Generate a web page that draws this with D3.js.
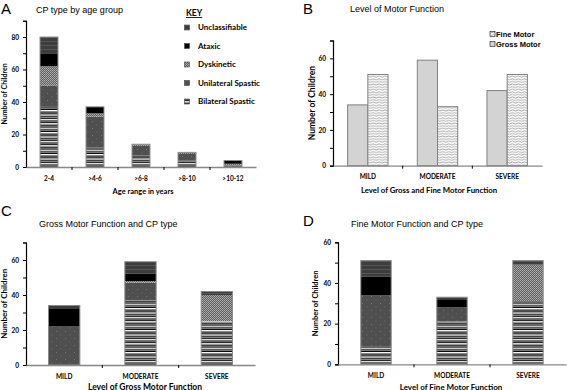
<!DOCTYPE html>
<html>
<head>
<meta charset="utf-8">
<script src="https://cdn.jsdelivr.net/npm/d3@7"></script>
<style>
  body { margin: 0; background: #fff; }
  svg { display: block; }
  text { font-family: Lato, "DejaVu Sans", sans-serif; font-weight: bold; fill: #000; }
  .ttl { font-family: "Liberation Sans", Arial, sans-serif; font-weight: normal; }
</style>
</head>
<body>
<svg width="567" height="390"></svg>
<script>
// ---- data ----
const cpTypes = ["Bilateral Spastic", "Unilateral Spastic", "Dyskinetic", "Ataxic", "Unclassifiable"];
const cpKeys = ["bil", "uni", "dys", "ata", "unc"];

// A: CP type by age group
const ageGroups = ["2-4", ">4-6", ">6-8", ">8-10", ">10-12"];
const ageBilateral = [37, 12, 7, 4, 0];
const ageUnilateral = [13, 19, 6, 4, 1];
const ageDyskinetic = [12, 2, 1, 1, 1];
const ageAtaxic = [8, 4, 0, 0, 2];
const ageUnclass = [10, 0, 0, 0, 0];

// B: level of motor function
const levels = ["MILD", "MODERATE", "SEVERE"];
const grossMotor = [34, 59, 42];
const fineMotor = [51, 33, 51];

// C: gross motor function and CP type
const grossBilateral = [0, 37, 25];
const grossUnilateral = [22, 10, 0];
const grossDyskinetic = [0, 1, 15];
const grossAtaxic = [10, 4, 0];
const grossUnclass = [2, 7, 2];

// D: fine motor function and CP type
const fineBilateral = [9, 21, 31];
const fineUnilateral = [25, 7, 0];
const fineDyskinetic = [0, 0, 18];
const fineAtaxic = [9, 4, 0];
const fineUnclass = [8, 1, 2];

const svg = d3.select('svg');
const defs = svg.append('defs');

// ---- fill patterns (grayscale like the original) ----
function pat(id, w, h, draw) {
  const p = defs.append('pattern').attr('id', id)
    .attr('patternUnits', 'userSpaceOnUse').attr('width', w).attr('height', h);
  draw(p);
}
pat('p-bil', 6, 4.4, p => {
  p.append('rect').attr('width', 6).attr('height', 4.4).attr('fill', '#000');
  p.append('rect').attr('y', 0).attr('width', 6).attr('height', 1.4).attr('fill', '#fff');
  p.append('rect').attr('y', 2.3).attr('width', 6).attr('height', 1.2).attr('fill', '#8c8c8c');
});
pat('p-uni', 9, 7, p => {
  p.append('rect').attr('width', 9).attr('height', 7).attr('fill', '#4f4f4f');
  p.append('rect').attr('x', 2).attr('y', 2).attr('width', 0.8).attr('height', 0.8).attr('fill', '#8a8a8a');
  p.append('rect').attr('x', 6.5).attr('y', 5.5).attr('width', 0.8).attr('height', 0.8).attr('fill', '#7a7a7a');
});
pat('p-dys', 2, 2, p => {
  p.append('rect').attr('width', 2).attr('height', 2).attr('fill', '#5e5e5e');
  p.append('rect').attr('width', 1).attr('height', 1).attr('fill', '#b4b4b4');
  p.append('rect').attr('x', 1).attr('y', 1).attr('width', 1).attr('height', 1).attr('fill', '#a0a0a0');
});
pat('p-ata', 4, 4, p => {
  p.append('rect').attr('width', 4).attr('height', 4).attr('fill', '#000');
});
pat('p-unc', 4, 4, p => {
  p.append('rect').attr('width', 4).attr('height', 4).attr('fill', '#3d3d3d');
  p.append('rect').attr('y', 1.5).attr('width', 4).attr('height', 0.5).attr('fill', '#6c6c6c');
});
pat('p-wave', 6, 2.6, p => {
  p.append('rect').attr('width', 6).attr('height', 2.6).attr('fill', '#fff');
  p.append('path').attr('d', 'M0,1.3 Q1.5,0.2 3,1.3 T6,1.3')
    .attr('fill', 'none').attr('stroke', '#7a7a7a').attr('stroke-width', 0.7);
});

const cpFill = {bil: 'url(#p-bil)', uni: 'url(#p-uni)', dys: 'url(#p-dys)', ata: 'url(#p-ata)', unc: 'url(#p-unc)'};

// ---- shared axis drawing ----
function drawAxes(x, y, o) {
  const g = svg.append('g');
  // y axis with minor ticks every 10, labels every 20
  const yAx = g.append('g').attr('transform', `translate(${o.x0},0)`)
    .call(d3.axisLeft(y).tickValues(d3.range(0, o.max + 1, 10))
      .tickSize(3).tickPadding(4)
      .tickFormat(d => d % 20 === 0 ? d : ''));
  yAx.select('.domain').attr('stroke', '#000').attr('stroke-width', 1.2);
  yAx.selectAll('.tick line').attr('stroke', '#000').attr('x2', -3).attr('x1', 1);
  yAx.selectAll('text').style('font-size', '6.5px').style('font-family', 'Lato').style('font-weight', 'bold');

  // x axis: labels under band centres, ticks at band edges
  const xAx = g.append('g').attr('transform', `translate(0,${o.y0})`)
    .call(d3.axisBottom(x).tickSize(0).tickPadding(9).tickSizeOuter(0));
  xAx.select('.domain').attr('stroke', '#888').attr('stroke-width', 1.3);
  xAx.selectAll('text').style('font-size', '6.5px').style('font-family', 'Lato').style('font-weight', 'bold');
  const edge = (x.step() - x.bandwidth()) / 2;
  g.selectAll('.xedge').data(x.domain().slice(1))
    .enter().append('line')
    .attr('x1', d => x(d) - edge).attr('x2', d => x(d) - edge)
    .attr('y1', o.y0).attr('y2', o.y0 + 3)
    .attr('stroke', '#000').attr('stroke-width', 1);

  // titles
  svg.append('text').attr('class', 'ttl')
    .attr('x', o.letterX).attr('y', o.letterY)
    .style('font-size', '15px').text(o.letter);
  svg.append('text').attr('class', 'ttl')
    .attr('x', o.titleX).attr('y', o.titleY)
    .style('font-size', '9px').text(o.title);
  svg.append('text')
    .attr('transform', `translate(${o.yLabX},${(o.y0 + o.y1) / 2}) rotate(-90)`)
    .attr('text-anchor', 'middle').attr('dy', '0.35em')
    .style('font-size', o.yLabSize + 'px').text('Number of Children');
  svg.append('text')
    .attr('x', o.xLabCx).attr('y', o.xLabY)
    .attr('text-anchor', 'middle')
    .style('font-size', o.xLabSize + 'px').text(o.xLab);
}

// ---- stacked panels (A, C, D) ----
function stackedPanel(cats, series, o) {
  const rows = cats.map((c, i) => {
    const r = {cat: c};
    cpKeys.forEach((k, j) => r[k] = series[j][i]);
    return r;
  });
  const x = d3.scaleBand().domain(cats).range([o.x0, o.x1])
    .paddingInner(o.pad).paddingOuter(o.pad / 2);
  const y = d3.scaleLinear().domain([0, o.max]).range([o.y0, o.y1]);
  const stacked = d3.stack().keys(cpKeys)(rows);

  const layers = svg.append('g').selectAll('g').data(stacked).enter().append('g')
    .attr('fill', d => cpFill[d.key]);
  layers.selectAll('rect').data(d => d.filter(s => s[1] > s[0])).enter().append('rect')
    .attr('x', d => x(d.data.cat))
    .attr('width', x.bandwidth())
    .attr('y', d => y(d[1]))
    .attr('height', d => y(d[0]) - y(d[1]));
  // bar outline
  svg.append('g').selectAll('rect').data(rows).enter().append('rect')
    .attr('x', d => x(d.cat))
    .attr('width', x.bandwidth())
    .attr('y', d => y(d3.sum(cpKeys, k => d[k])))
    .attr('height', d => o.y0 - y(d3.sum(cpKeys, k => d[k])))
    .attr('fill', 'none').attr('stroke', '#8a8a8a').attr('stroke-width', 1);

  drawAxes(x, y, o);
}

stackedPanel(ageGroups, [ageBilateral, ageUnilateral, ageDyskinetic, ageAtaxic, ageUnclass], {
  x0: 26, x1: 256, y0: 167, y1: 20.75, max: 90, pad: 0.61,
  letter: 'A', letterX: 1, letterY: 14, title: 'CP type by age group', titleX: 36, titleY: 13,
  yLabX: 5, yLabSize: 7, xLab: 'Age range in years', xLabCx: 143, xLabY: 194, xLabSize: 7.5
});
stackedPanel(levels, [grossBilateral, grossUnilateral, grossDyskinetic, grossAtaxic, grossUnclass], {
  x0: 26, x1: 255, y0: 365, y1: 242.5, max: 70, pad: 0.59,
  letter: 'C', letterX: 1, letterY: 216, title: 'Gross Motor Function and CP type', titleX: 39, titleY: 227,
  yLabX: 4, yLabSize: 8, xLab: 'Level of Gross Motor Function', xLabCx: 145, xLabY: 389.5, xLabSize: 8.5
});
stackedPanel(levels, [fineBilateral, fineUnilateral, fineDyskinetic, fineAtaxic, fineUnclass], {
  x0: 338, x1: 566, y0: 364.3, y1: 242.3, max: 60, pad: 0.6,
  letter: 'D', letterX: 303, letterY: 226, title: 'Fine Motor Function and CP type', titleX: 351, titleY: 226.5,
  yLabX: 315.5, yLabSize: 7.5, xLab: 'Level of Fine Motor Function', xLabCx: 451, xLabY: 389.5, xLabSize: 8
});

// ---- A legend ----
const keyG = svg.append('g');
keyG.append('text').attr('x', 186).attr('y', 16).style('font-size', '8.5px')
  .style('text-decoration', 'underline').text('KEY');
const legendOrder = ["unc", "ata", "dys", "uni", "bil"];
legendOrder.forEach((k, i) => {
  const yy = 27.5 + i * 18.5;
  keyG.append('rect').attr('x', 184.5).attr('y', yy - 2.5).attr('width', 5).attr('height', 5)
    .attr('fill', cpFill[k]).attr('stroke', '#444').attr('stroke-width', 0.6);
  keyG.append('text').attr('x', 198).attr('y', yy).attr('dy', '0.35em')
    .style('font-size', '8px').text(cpTypes[cpKeys.indexOf(k)]);
});

// ---- B grouped bars ----
(function () {
  const o = {
    x0: 333, x1: 542, y0: 165.7, y1: 40.5, max: 70,
    letter: 'B', letterX: 303, letterY: 14, title: 'Level of Motor Function', titleX: 350, titleY: 12,
    yLabX: 312, yLabSize: 8.5, xLab: 'Level of Gross and Fine Motor Function', xLabCx: 429, xLabY: 192.5, xLabSize: 7.8
  };
  const groups = ["gross", "fine"];
  const vals = {gross: grossMotor, fine: fineMotor};
  const fills = {gross: '#d3d3d3', fine: 'url(#p-wave)'};
  const x = d3.scaleBand().domain(levels).range([o.x0, o.x1]).paddingInner(0.42).paddingOuter(0.21);
  const xs = d3.scaleBand().domain(groups).range([0, x.bandwidth()]);
  const y = d3.scaleLinear().domain([0, o.max]).range([o.y0, o.y1]);

  const gg = svg.append('g').selectAll('g').data(levels).enter().append('g')
    .attr('transform', d => `translate(${x(d)},0)`);
  gg.selectAll('rect').data((d, i) => groups.map(k => ({k, v: vals[k][i]})))
    .enter().append('rect')
    .attr('x', d => xs(d.k)).attr('width', xs.bandwidth())
    .attr('y', d => y(d.v)).attr('height', d => o.y0 - y(d.v))
    .attr('fill', d => fills[d.k]).attr('stroke', '#808080').attr('stroke-width', 1);

  drawAxes(x, y, o);

  const leg = [["Fine Motor", fills.fine], ["Gross Motor", fills.gross]];
  leg.forEach((l, i) => {
    const yy = 34 + i * 10;
    svg.append('rect').attr('x', 490).attr('y', yy - 2.5).attr('width', 5).attr('height', 5)
      .attr('fill', l[1]).attr('stroke', '#333').attr('stroke-width', 0.7);
    svg.append('text').attr('class', 'ttl').attr('x', 496).attr('y', yy).attr('dy', '0.35em')
      .style('font-size', '7.5px').style('font-weight', 'bold').text(l[0]);
  });
})();
</script>
</body>
</html>
